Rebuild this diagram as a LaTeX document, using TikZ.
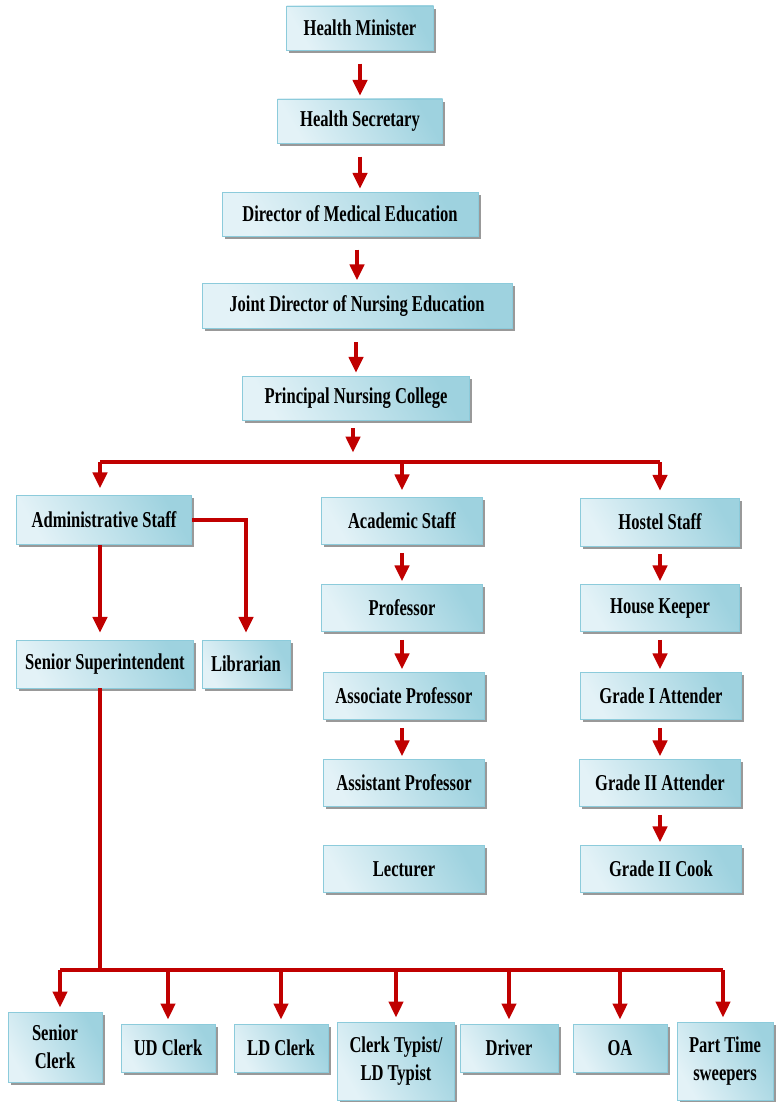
\documentclass[tikz,border=0pt]{standalone}
\usepackage{fontspec}
\newfontfamily\boxfont[FakeStretch=0.73]{Liberation Serif}
\usepackage{tikz}
\usetikzlibrary{arrows.meta,shadows}

\definecolor{boxlight}{HTML}{E3F2F7}
\definecolor{boxdark}{HTML}{9ED2DF}
\definecolor{boxedge}{HTML}{8CCBDB}
\definecolor{linkred}{HTML}{C00000}

\tikzset{
  box/.style={draw=boxedge, line width=0.6pt, left color=boxlight, right color=boxdark,
    shading angle=120, align=center, inner sep=0pt,
    font=\boxfont\bfseries\fontsize{17}{21}\selectfont,
    drop shadow={shadow xshift=2pt, shadow yshift=-2pt, fill=black!40, opacity=1}},
  wd/.style={minimum width=#1*0.75pt},
  ht/.style={minimum height=#1*0.75pt},
  link/.style={draw=linkred, line width=3.2pt},
  arr/.style={link, -{Triangle[width=10.5pt,length=12pt]}},
  gap/.style={shorten <=6pt, shorten >=2pt},
  topgap/.style={shorten <=10pt, shorten >=2pt}
}

\begin{document}
\begin{tikzpicture}[x=0.75pt, y=-0.75pt]
    \useasboundingbox (0,0) rectangle (775,1102);

    % top chain
    \node[box, wd=147, ht=44] (hm) at (360,28) {Health Minister};
    \node[box, wd=165, ht=44] (hs) at (360,121) {Health Secretary};
    \node[box, wd=256, ht=44] (dme) at (350,214) {Director of Medical Education};
    \node[box, wd=310, ht=45] (jdne) at (357,306) {Joint Director of Nursing Education};
    \node[box, wd=227, ht=44] (pnc) at (356,398) {Principal Nursing College};

    \draw[arr, topgap] (hm.south) -- (hm.south |- hs.north);
    \draw[arr, topgap] (hs.south) -- (hs.south |- dme.north);
    \draw[arr, topgap] (dme.south -| jdne.north) -- (jdne.north);
    \draw[arr, topgap] (pnc.north |- jdne.south) -- (pnc.north);

    % staff groups
    \node[box, wd=175, ht=49] (adm) at (104,520) {Administrative Staff};
    \node[box, wd=161, ht=47] (aca) at (402,521) {Academic Staff};
    \node[box, wd=159, ht=48] (hos) at (660,522) {Hostel Staff};

    \coordinate (tbusL) at (100,462);
    \coordinate (tbusR) at (660,462);
    \coordinate (tbus) at (353,462);
    \draw[arr, shorten <=6pt, shorten >=7pt] (pnc.south -| tbus) -- (tbus);
    \draw[link] (tbusL) -- (tbusR);
    \draw[arr, shorten >=5pt] (tbusL) -- (tbusL |- adm.north);
    \draw[arr, shorten >=5pt] (tbusL -| aca.north) -- (aca.north);
    \draw[arr, shorten >=5pt] (tbusR) -- (hos.north);

    % administrative side
    \node[box, wd=177, ht=48] (ss) at (105,664) {Senior Superintendent};
    \node[box, wd=88, ht=48] (lib) at (246,664) {Librarian};
    \draw[arr, shorten >=5pt] (tbusL |- adm.south) -- (tbusL |- ss.north);
    \draw[arr, shorten >=5pt] (adm.east) -| (lib.north);

    % academic column
    \node[box, wd=161, ht=47] (prof) at (402,608) {Professor};
    \node[box, wd=161, ht=47] (asso) at (404,696) {Associate Professor};
    \node[box, wd=161, ht=47] (asst) at (404,783) {Assistant Professor};
    \node[box, wd=161, ht=47] (lect) at (404,869) {Lecturer};
    \draw[arr, gap] (aca.south) -- (aca.south |- prof.north);
    \draw[arr, gap] (prof.south) -- (prof.south |- asso.north);
    \draw[arr, gap] (aca.south |- asso.south) -- (aca.south |- asst.north);

    % hostel column
    \node[box, wd=159, ht=47] (hk) at (660,608) {House Keeper};
    \node[box, wd=161, ht=47] (ga1) at (661,696) {Grade I Attender};
    \node[box, wd=161, ht=47] (ga2) at (660,783) {Grade II Attender};
    \node[box, wd=161, ht=47] (cook) at (661,869) {Grade II Cook};
    \draw[arr, gap] (hos.south) -- (hos.south |- hk.north);
    \draw[arr, gap] (hk.south) -- (hk.south |- ga1.north);
    \draw[arr, gap] (hos.south |- ga1.south) -- (hos.south |- ga2.north);
    \draw[arr, gap] (hos.south |- ga2.south) -- (hos.south |- cook.north);

    % office staff
    \node[box, wd=94, ht=70] (sc) at (55,1047) {Senior\\Clerk};
    \node[box, wd=94, ht=48] (ud) at (168,1048) {UD Clerk};
    \node[box, wd=94, ht=48] (ld) at (281,1048) {LD Clerk};
    \node[box, wd=117, ht=78] (ct) at (396,1061) {Clerk Typist/\\LD Typist};
    \node[box, wd=98, ht=48] (dr) at (509,1048) {Driver};
    \node[box, wd=94, ht=48] (oa) at (620,1048) {OA};
    \node[box, wd=96, ht=78] (pt) at (725,1061) {Part Time\\sweepers};

    \coordinate (sbusL) at (60,970);
    \coordinate (sbusR) at (723,970);
    \draw[link] (tbusL |- ss.south) -- (tbusL |- sbusL);
    \draw[link] (sbusL) -- (sbusR);
    \draw[arr, shorten >=3pt] (sbusL) -- (sbusL |- sc.north);
    \draw[arr, shorten >=3pt] (sbusL -| ud.north) -- (ud.north);
    \draw[arr, shorten >=3pt] (sbusL -| ld.north) -- (ld.north);
    \draw[arr, shorten >=3pt] (sbusL -| ct.north) -- (ct.north);
    \draw[arr, shorten >=3pt] (sbusL -| dr.north) -- (dr.north);
    \draw[arr, shorten >=3pt] (sbusL -| oa.north) -- (oa.north);
    \draw[arr, shorten >=3pt] (sbusR) -- (sbusR |- pt.north);
\end{tikzpicture}
\end{document}
